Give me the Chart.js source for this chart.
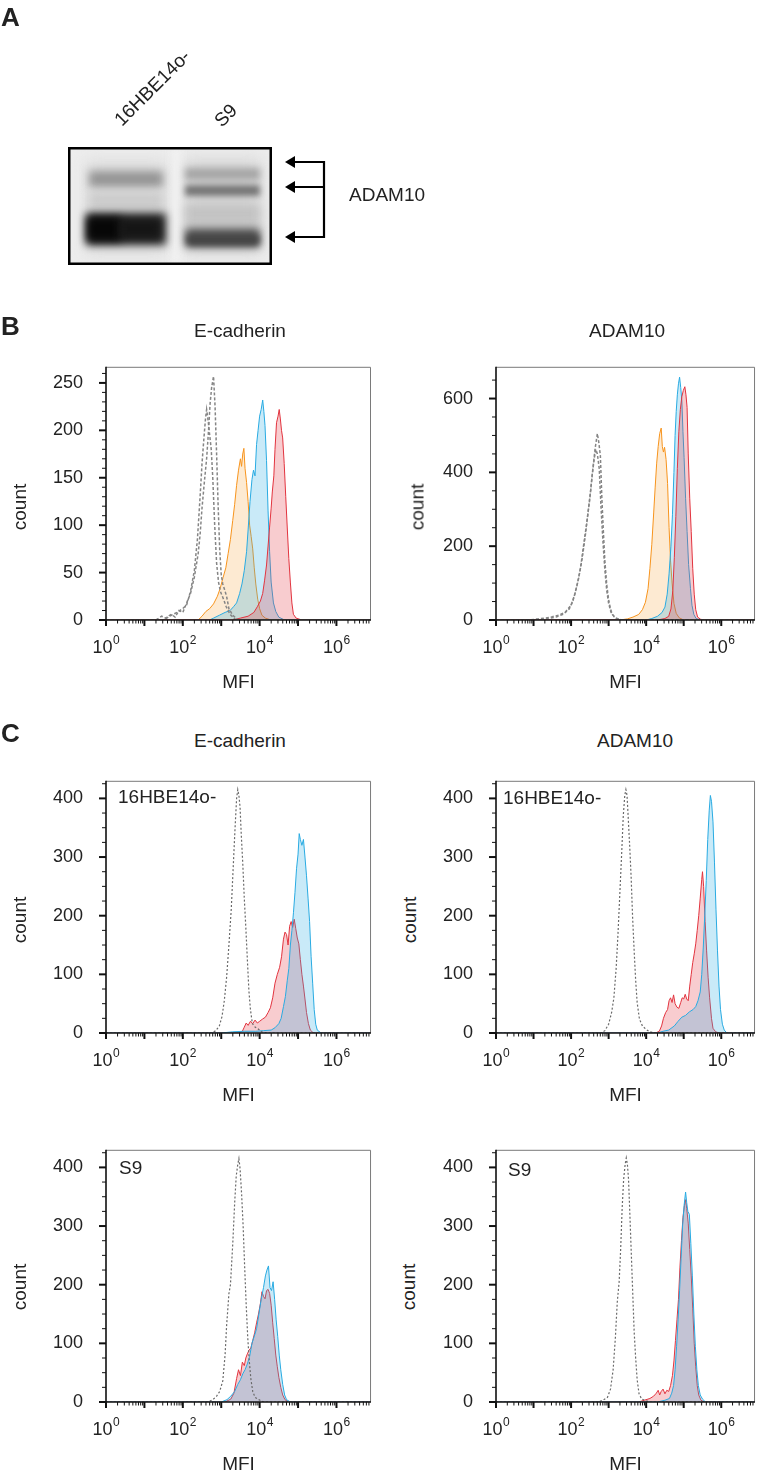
<!DOCTYPE html>
<html>
<head>
<meta charset="utf-8">
<script src="https://cdn.jsdelivr.net/npm/chart.js@4.4.1/dist/chart.umd.min.js"></script>
<style>
html, body { margin: 0; padding: 0; background: #fff; }
body { width: 764px; height: 1477px; position: relative; overflow: hidden;
       font-family: "Liberation Sans", Arial, Helvetica, sans-serif; color: #222; }
canvas { position: absolute; }
.t { position: absolute; line-height: 1; white-space: nowrap; font-size: 19px; }
.c { transform: translate(-50%, -50%); }
.v { transform: translate(-50%, -50%) rotate(-90deg); }
.r { transform-origin: 0 100%; transform: rotate(-45deg); }
.p { font-weight: bold; font-size: 26px; }
</style>
</head>
<body>
<canvas id="blot" width="400" height="280" style="left:0;top:0"></canvas>

<div class="t p" style="left:1px;top:4px">A</div>
<div class="t r" style="left:124px;top:110px">16HBE14o-</div>
<div class="t r" style="left:224px;top:111px">S9</div>
<div class="t" style="left:349px;top:185px">ADAM10</div>

<div class="t p" style="left:1px;top:313px">B</div>
<div class="t c" style="left:240px;top:330px">E-cadherin</div>
<div class="t c" style="left:627px;top:330px">ADAM10</div>
<div class="t v" style="left:19px;top:507px">count</div>
<div class="t v" style="left:417px;top:507px">count</div>

<div class="t p" style="left:1px;top:720px">C</div>
<div class="t c" style="left:240px;top:740px">E-cadherin</div>
<div class="t c" style="left:635px;top:740px">ADAM10</div>
<div class="t v" style="left:19px;top:920px">count</div>
<div class="t v" style="left:409px;top:920px">count</div>
<div class="t v" style="left:19px;top:1287px">count</div>
<div class="t v" style="left:408px;top:1287px">count</div>

<script>
// ---- axes ----
const X_MAX = Math.pow(10, 6.9);
const xLabelValues = [1, 100, 10000, 1000000];
const xLabelBase = '10';
const xLabelExps = ['0', '2', '4', '6'];

// ---- data: [log10(MFI), count] ----
// B, E-cadherin
const bEcadGrayA = [[0,0],[1.3,0],[1.45,4],[1.55,2],[1.7,6],[1.8,3],[1.9,10],[2.0,8],[2.1,18],[2.2,28],[2.3,45],[2.4,70],[2.45,90],[2.5,118],[2.56,145],[2.62,170],[2.67,200],[2.71,228],[2.75,245],[2.8,257],[2.84,225],[2.88,175],[2.92,120],[2.96,75],[3.0,48],[3.04,38],[3.08,33],[3.14,25],[3.2,12],[3.3,5],[3.45,0],[6.9,0]];
const bEcadGrayB = [[0,0],[1.5,0],[1.7,5],[1.85,8],[2.0,12],[2.1,16],[2.2,30],[2.3,52],[2.38,85],[2.45,130],[2.5,165],[2.55,192],[2.59,212],[2.62,222],[2.66,210],[2.7,195],[2.74,180],[2.78,150],[2.83,100],[2.88,60],[2.93,40],[2.98,30],[3.06,22],[3.13,14],[3.23,6],[3.38,0],[6.9,0]];
const bEcadOrange = [[0,0],[2.4,0],[2.5,4],[2.6,9],[2.7,12],[2.8,17],[2.9,25],[2.97,33],[3.05,45],[3.12,55],[3.18,70],[3.24,85],[3.3,105],[3.35,122],[3.4,142],[3.45,158],[3.5,170],[3.53,162],[3.56,175],[3.59,181],[3.62,160],[3.66,145],[3.7,125],[3.74,100],[3.78,88],[3.82,75],[3.86,55],[3.9,38],[3.95,22],[4.0,12],[4.06,5],[4.15,2],[4.3,0],[6.9,0]];
const bEcadBlue = [[0,0],[2.7,0],[2.8,2],[2.95,5],[3.1,8],[3.23,10],[3.32,14],[3.4,18],[3.48,28],[3.54,38],[3.6,52],[3.66,72],[3.7,95],[3.75,125],[3.8,148],[3.84,158],[3.88,152],[3.92,185],[3.96,200],[4.0,215],[4.04,222],[4.08,232],[4.11,220],[4.14,205],[4.18,168],[4.22,115],[4.26,72],[4.3,40],[4.36,18],[4.42,9],[4.5,3],[4.65,0],[6.9,0]];
const bEcadRed = [[0,0],[3.3,0],[3.5,2],[3.7,4],[3.85,8],[3.94,14],[4.02,20],[4.08,28],[4.13,42],[4.18,58],[4.22,78],[4.26,98],[4.3,118],[4.33,135],[4.37,152],[4.4,180],[4.44,208],[4.48,215],[4.51,222],[4.54,212],[4.57,200],[4.6,192],[4.64,165],[4.68,130],[4.72,97],[4.76,65],[4.8,40],[4.84,18],[4.88,6],[4.95,2],[5.1,0],[6.9,0]];

// B, ADAM10
const bAdamGrayA = [[0,0],[0.9,0],[1.1,3],[1.3,5],[1.5,9],[1.7,14],[1.85,22],[2.0,40],[2.1,70],[2.2,112],[2.3,170],[2.38,230],[2.45,290],[2.52,350],[2.58,410],[2.64,465],[2.7,505],[2.74,480],[2.78,445],[2.82,330],[2.86,240],[2.9,160],[2.95,95],[3.0,55],[3.05,30],[3.1,15],[3.2,5],[3.35,0],[6.9,0]];
const bAdamGrayB = [[0,0],[1.2,0],[1.4,4],[1.6,8],[1.8,16],[1.95,30],[2.05,52],[2.15,90],[2.25,140],[2.33,200],[2.42,265],[2.5,330],[2.56,390],[2.62,440],[2.66,462],[2.7,450],[2.75,410],[2.8,300],[2.85,210],[2.9,135],[2.95,80],[3.0,45],[3.06,22],[3.15,8],[3.3,0],[6.9,0]];
const bAdamOrange = [[0,0],[3.3,0],[3.5,3],[3.65,8],[3.8,15],[3.9,28],[3.98,48],[4.05,85],[4.1,140],[4.15,205],[4.2,290],[4.24,360],[4.28,425],[4.32,470],[4.36,505],[4.4,520],[4.43,470],[4.46,455],[4.49,468],[4.53,435],[4.57,370],[4.61,250],[4.65,160],[4.69,100],[4.74,45],[4.8,18],[4.88,6],[5.0,0],[6.9,0]];
const bAdamBlue = [[0,0],[4.0,0],[4.15,4],[4.3,10],[4.42,20],[4.5,35],[4.56,70],[4.61,125],[4.66,200],[4.7,285],[4.74,400],[4.77,500],[4.8,565],[4.83,610],[4.86,640],[4.89,658],[4.92,630],[4.95,595],[4.98,510],[5.01,440],[5.05,330],[5.09,240],[5.13,150],[5.18,85],[5.22,40],[5.27,15],[5.33,4],[5.45,0],[6.9,0]];
const bAdamRed = [[0,0],[4.3,0],[4.5,4],[4.6,10],[4.66,30],[4.71,80],[4.75,170],[4.79,280],[4.83,410],[4.87,510],[4.91,570],[4.95,605],[4.99,622],[5.03,632],[5.06,610],[5.09,576],[5.12,450],[5.16,330],[5.2,240],[5.24,140],[5.28,70],[5.32,28],[5.37,8],[5.45,2],[5.55,0],[6.9,0]];

// C, E-cadherin, 16HBE14o-
const cHbeEcadGray = [[0,0],[2.75,0],[2.86,4],[2.95,12],[3.02,28],[3.08,55],[3.14,95],[3.2,150],[3.26,210],[3.31,280],[3.36,350],[3.4,400],[3.43,415],[3.46,405],[3.49,385],[3.52,340],[3.56,290],[3.6,230],[3.64,180],[3.68,125],[3.72,72],[3.76,40],[3.81,16],[3.88,10],[3.94,8],[4.05,2],[4.2,0],[6.9,0]];
const cHbeEcadBlue = [[0,0],[3.0,0],[3.3,2],[3.6,3],[3.9,3],[4.1,4],[4.3,5],[4.4,9],[4.5,16],[4.56,25],[4.62,45],[4.67,62],[4.72,90],[4.76,110],[4.8,150],[4.84,175],[4.88,205],[4.92,240],[4.96,280],[5.0,305],[5.03,340],[5.06,330],[5.1,320],[5.14,330],[5.18,300],[5.22,268],[5.26,230],[5.3,190],[5.34,130],[5.38,85],[5.42,40],[5.46,15],[5.5,5],[5.6,0],[6.9,0]];
const cHbeEcadRed = [[0,0],[3.45,0],[3.55,3],[3.6,10],[3.65,17],[3.7,13],[3.76,20],[3.82,16],[3.88,22],[3.94,17],[4.0,20],[4.08,24],[4.15,27],[4.22,35],[4.28,43],[4.34,60],[4.4,85],[4.46,100],[4.52,112],[4.57,130],[4.62,160],[4.66,172],[4.7,168],[4.74,150],[4.78,182],[4.82,190],[4.86,180],[4.9,194],[4.94,178],[4.98,162],[5.02,152],[5.06,125],[5.1,100],[5.14,80],[5.18,58],[5.22,35],[5.27,16],[5.32,5],[5.4,0],[6.9,0]];

// C, ADAM10, 16HBE14o-
const cHbeAdamGray = [[0,0],[2.8,0],[2.9,4],[3.0,15],[3.08,35],[3.14,60],[3.2,110],[3.25,170],[3.3,240],[3.35,310],[3.39,370],[3.43,405],[3.46,415],[3.49,405],[3.52,370],[3.56,320],[3.6,265],[3.64,195],[3.68,140],[3.72,90],[3.76,52],[3.82,24],[3.9,12],[4.0,6],[4.1,2],[4.25,0],[6.9,0]];
const cHbeAdamBlue = [[0,0],[4.3,0],[4.45,3],[4.6,5],[4.75,12],[4.85,20],[4.95,27],[5.05,30],[5.15,36],[5.25,40],[5.32,45],[5.38,55],[5.44,70],[5.48,100],[5.52,145],[5.56,200],[5.6,260],[5.64,330],[5.68,380],[5.71,405],[5.74,395],[5.78,360],[5.82,290],[5.86,210],[5.9,140],[5.94,80],[5.98,40],[6.03,15],[6.08,5],[6.15,0],[6.9,0]];
const cHbeAdamRed = [[0,0],[4.25,0],[4.35,3],[4.41,12],[4.46,25],[4.52,35],[4.57,40],[4.61,55],[4.65,60],[4.69,52],[4.73,65],[4.77,50],[4.82,44],[4.87,42],[4.92,52],[4.96,60],[5.0,58],[5.04,66],[5.08,58],[5.12,55],[5.16,80],[5.2,100],[5.24,120],[5.28,135],[5.32,152],[5.36,175],[5.4,200],[5.44,230],[5.48,262],[5.5,275],[5.53,250],[5.57,190],[5.61,140],[5.65,95],[5.69,60],[5.74,25],[5.78,8],[5.85,2],[5.95,0],[6.9,0]];

// C, E-cadherin, S9
const cS9EcadGray = [[0,0],[2.65,0],[2.78,4],[2.88,10],[2.96,18],[3.04,36],[3.1,80],[3.14,130],[3.2,185],[3.24,200],[3.3,270],[3.35,340],[3.39,385],[3.43,405],[3.46,415],[3.49,398],[3.53,355],[3.57,300],[3.61,230],[3.65,165],[3.69,110],[3.73,70],[3.77,40],[3.82,18],[3.88,8],[3.98,4],[4.1,0],[6.9,0]];
const cS9EcadBlue = [[0,0],[3.0,0],[3.15,4],[3.25,10],[3.35,18],[3.43,30],[3.5,38],[3.56,48],[3.62,55],[3.68,65],[3.74,78],[3.8,100],[3.86,112],[3.92,125],[3.98,150],[4.04,175],[4.1,195],[4.15,215],[4.19,225],[4.23,232],[4.27,195],[4.31,190],[4.35,205],[4.39,175],[4.43,140],[4.47,112],[4.51,80],[4.55,55],[4.6,30],[4.65,12],[4.7,4],[4.8,0],[6.9,0]];
const cS9EcadRed = [[0,0],[3.1,0],[3.25,5],[3.33,15],[3.4,40],[3.45,55],[3.5,45],[3.55,68],[3.6,62],[3.64,75],[3.68,82],[3.72,88],[3.77,92],[3.82,105],[3.87,118],[3.92,135],[3.97,150],[4.02,168],[4.06,188],[4.1,180],[4.14,176],[4.18,190],[4.22,192],[4.26,185],[4.3,165],[4.34,135],[4.38,108],[4.42,80],[4.46,60],[4.5,42],[4.55,25],[4.6,12],[4.66,4],[4.75,0],[6.9,0]];

// C, ADAM10, S9
const cS9AdamGray = [[0,0],[2.7,0],[2.85,3],[2.97,8],[3.05,22],[3.12,55],[3.18,110],[3.23,170],[3.28,205],[3.32,260],[3.36,330],[3.4,380],[3.44,405],[3.47,416],[3.5,405],[3.53,380],[3.56,330],[3.6,260],[3.64,190],[3.68,120],[3.72,75],[3.76,38],[3.81,14],[3.88,5],[4.0,2],[4.1,0],[6.9,0]];
const cS9AdamBlue = [[0,0],[4.3,0],[4.5,3],[4.62,6],[4.68,15],[4.73,28],[4.77,55],[4.81,95],[4.85,140],[4.89,190],[4.93,245],[4.97,300],[5.01,335],[5.05,358],[5.08,340],[5.11,325],[5.15,320],[5.19,270],[5.23,215],[5.27,150],[5.31,95],[5.35,55],[5.39,28],[5.44,12],[5.5,5],[5.58,0],[6.9,0]];
const cS9AdamRed = [[0,0],[3.8,0],[3.95,3],[4.1,6],[4.2,10],[4.27,15],[4.32,20],[4.36,12],[4.4,18],[4.45,22],[4.5,14],[4.55,20],[4.6,18],[4.65,28],[4.7,45],[4.74,70],[4.78,105],[4.82,140],[4.86,175],[4.9,230],[4.94,275],[4.98,315],[5.02,335],[5.05,345],[5.08,330],[5.12,305],[5.16,260],[5.2,215],[5.24,160],[5.28,100],[5.32,60],[5.36,28],[5.4,12],[5.46,3],[5.55,0],[6.9,0]];

// ---- styles ----
const styles = {
    grayB:  { borderColor: '#858585', borderWidth: 1.5, borderDash: [3, 2], fill: false },
    grayC:  { borderColor: '#6a6a6a', borderWidth: 1.2, borderDash: [2, 2], fill: false },
    red:    { borderColor: '#e2343f', borderWidth: 1, fill: 'origin', backgroundColor: 'rgba(226,52,64,0.25)' },
    blue:   { borderColor: '#29abe2', borderWidth: 1, fill: 'origin', backgroundColor: 'rgba(41,171,226,0.25)' },
    orange: { borderColor: '#f7941d', borderWidth: 1, fill: 'origin', backgroundColor: 'rgba(247,148,29,0.2)' }
};

// ---- panel layout (first series is drawn on top) ----
const PAD_TOP = 14, X_AXIS_H = 74;
const TICK_FONT = 18;
const panels = [
    { left: 30,  width: 350, top: 354,  bottom: 620,  plotLeft: 106, plotRight: 371, yMax: 267, yMajor: 50,  yMinor: 10,
      series: [[bEcadGrayA, 'grayB'], [bEcadGrayB, 'grayB'], [bEcadRed, 'red'], [bEcadBlue, 'blue'], [bEcadOrange, 'orange']] },
    { left: 420, width: 344, top: 354,  bottom: 620,  plotLeft: 496, plotRight: 762, yMax: 686, yMajor: 200, yMinor: 50,
      series: [[bAdamGrayA, 'grayB'], [bAdamGrayB, 'grayB'], [bAdamRed, 'red'], [bAdamBlue, 'blue'], [bAdamOrange, 'orange']] },
    { left: 30,  width: 350, top: 768,  bottom: 1033, plotLeft: 106, plotRight: 372, yMax: 430, yMajor: 100, yMinor: 25,
      series: [[cHbeEcadGray, 'grayC'], [cHbeEcadBlue, 'blue'], [cHbeEcadRed, 'red']] },
    { left: 420, width: 344, top: 768,  bottom: 1033, plotLeft: 496, plotRight: 762, yMax: 430, yMajor: 100, yMinor: 25,
      series: [[cHbeAdamGray, 'grayC'], [cHbeAdamBlue, 'blue'], [cHbeAdamRed, 'red']] },
    { left: 30,  width: 350, top: 1137, bottom: 1402, plotLeft: 106, plotRight: 372, yMax: 430, yMajor: 100, yMinor: 25,
      series: [[cS9EcadGray, 'grayC'], [cS9EcadBlue, 'blue'], [cS9EcadRed, 'red']] },
    { left: 420, width: 344, top: 1137, bottom: 1402, plotLeft: 496, plotRight: 762, yMax: 430, yMajor: 100, yMinor: 25,
      series: [[cS9AdamGray, 'grayC'], [cS9AdamBlue, 'blue'], [cS9AdamRed, 'red']] }
];
const innerLabels = [
    { text: '16HBE14o-', x: 118, y: 796 }, { text: '16HBE14o-', x: 503, y: 797 },
    { text: 'S9', x: 119, y: 1167 }, { text: 'S9', x: 508, y: 1169 }
];

// log tick marks: 1..9 of each decade
const xTickValues = [];
for (let e = 0; e <= 6; e++) {
    for (let m = 1; m <= 9; m++) {
        const v = m * Math.pow(10, e);
        if (v <= X_MAX) xTickValues.push(v);
    }
}
function isDecade(v) {
    const l = Math.log10(v);
    return Math.abs(l - Math.round(l)) < 1e-9;
}
function toPoints(pairs) {
    return pairs.map(p => ({ x: Math.pow(10, p[0]), y: p[1] }));
}

const FONT = '"Liberation Sans", Arial, Helvetica, sans-serif';
const EXP_SHIFT = -3.5;

// frame, axis lines, tick marks and the exponents of the x labels
const axisFrame = {
    id: 'axisFrame',
    afterDraw(chart, args, opts) {
        const { ctx, chartArea: a, scales: { x, y } } = chart;
        ctx.save();
        ctx.strokeStyle = '#7a7a7a';
        ctx.lineWidth = 1;
        ctx.beginPath();
        ctx.moveTo(a.left, a.top + 0.5);
        ctx.lineTo(a.right - 0.5, a.top + 0.5);
        ctx.lineTo(a.right - 0.5, a.bottom);
        ctx.stroke();

        ctx.strokeStyle = '#111';
        ctx.lineWidth = 1.6;
        ctx.beginPath();
        ctx.moveTo(a.left, a.top);
        ctx.lineTo(a.left, a.bottom + 1);
        ctx.moveTo(a.left, a.bottom);
        ctx.lineTo(a.right, a.bottom);
        ctx.stroke();

        x.ticks.forEach(t => {
            const px = x.getPixelForValue(t.value);
            const major = isDecade(t.value);
            ctx.lineWidth = major ? 2 : 1;
            ctx.beginPath();
            ctx.moveTo(px, a.bottom);
            ctx.lineTo(px, a.bottom + (major ? 6 : 3.5));
            ctx.stroke();
        });
        y.ticks.forEach(t => {
            const py = y.getPixelForValue(t.value);
            const major = t.value % opts.yMajor === 0;
            ctx.lineWidth = major ? 2 : 1;
            ctx.beginPath();
            ctx.moveTo(a.left, py);
            ctx.lineTo(a.left - (major ? 7 : 4), py);
            ctx.stroke();
        });

        // superscripts next to the "10" labels
        ctx.font = TICK_FONT + 'px ' + FONT;
        const baseW = ctx.measureText(xLabelBase).width;
        ctx.font = '12px ' + FONT;
        ctx.fillStyle = '#222';
        ctx.textAlign = 'left';
        ctx.textBaseline = 'alphabetic';
        xLabelValues.forEach((v, i) => {
            const px = x.getPixelForValue(v) + EXP_SHIFT;
            ctx.fillText(xLabelExps[i], px + baseW / 2 + 0.5, a.bottom + 24);
        });
        ctx.restore();
    }
};

Chart.defaults.font.family = FONT;
Chart.defaults.color = '#222';

panels.forEach(p => {
    const cv = document.createElement('canvas');
    cv.width = p.width;
    cv.height = p.bottom - p.top + PAD_TOP + X_AXIS_H;
    cv.style.left = p.left + 'px';
    cv.style.top = (p.top - PAD_TOP) + 'px';
    document.body.insertBefore(cv, document.body.firstChild);

    const yTicks = [];
    for (let v = 0; v <= p.yMax; v += p.yMinor) yTicks.push(v);

    new Chart(cv, {
        type: 'line',
        data: {
            datasets: p.series.map(s => Object.assign({
                data: toPoints(s[0]), pointRadius: 0, tension: 0
            }, styles[s[1]]))
        },
        options: {
            responsive: false,
            animation: false,
            events: [],
            layout: { padding: { top: PAD_TOP, right: p.left + p.width - p.plotRight, left: 0, bottom: 0 } },
            plugins: { legend: { display: false }, tooltip: { enabled: false }, axisFrame: { yMajor: p.yMajor } },
            scales: {
                x: {
                    type: 'logarithmic', min: 1, max: X_MAX,
                    afterBuildTicks: s => { s.ticks = xTickValues.map(v => ({ value: v })); },
                    afterFit: s => { s.height = X_AXIS_H; },
                    grid: { display: false, drawTicks: true, tickLength: 6 },
                    border: { display: false },
                    ticks: {
                        autoSkip: false, maxRotation: 0, minRotation: 0, padding: 11,
                        labelOffset: EXP_SHIFT,
                        font: { size: TICK_FONT },
                        callback: v => (xLabelValues.indexOf(v) < 0 ? '' : xLabelBase)
                    },
                    title: { display: true, text: 'MFI', font: { size: 19 }, padding: 0 }
                },
                y: {
                    type: 'linear', min: 0, max: p.yMax,
                    afterBuildTicks: s => { s.ticks = yTicks.map(v => ({ value: v })); },
                    afterFit: s => { s.width = p.plotLeft - p.left; },
                    grid: { display: false, drawTicks: true, tickLength: 7 },
                    border: { display: false },
                    ticks: {
                        autoSkip: false, padding: 16, font: { size: TICK_FONT },
                        callback: v => (v % p.yMajor === 0 ? String(v) : '')
                    }
                }
            }
        },
        plugins: [axisFrame]
    });
});

innerLabels.forEach(l => {
    const d = document.createElement('div');
    d.className = 't';
    d.textContent = l.text;
    d.style.left = l.x + 'px';
    d.style.top = (l.y - 9.5) + 'px';
    document.body.appendChild(d);
});

// ---- western blot (panel A) ----
const bctx = document.getElementById('blot').getContext('2d');
bctx.fillStyle = '#ededed';
bctx.fillRect(68, 147, 204, 118);
bctx.save();
bctx.beginPath();
bctx.rect(68, 147, 204, 118);
bctx.clip();
function band(x, y, w, h, color, blur) {
    bctx.filter = 'blur(' + blur + 'px)';
    bctx.fillStyle = color;
    bctx.fillRect(x, y, w, h);
}
band(86, 160, 80, 95, '#dcdcdc', 8);
band(183, 158, 78, 97, '#d8d8d8', 8);
band(172, 147, 8, 118, '#f3f3f3', 4);
// lane 1
band(89, 171, 74, 16, '#959595', 4);
band(89, 193, 74, 16, '#cbcbcb', 5);
band(86, 213, 80, 32, '#262626', 4);
band(87, 217, 34, 24, '#070707', 4);
band(120, 220, 40, 18, '#151515', 4);
// lane 2
band(185, 168, 75, 12, '#a5a5a5', 3.5);
band(185, 185, 75, 11, '#747474', 3);
band(185, 204, 75, 20, '#c3c3c3', 5);
band(185, 228, 75, 19, '#555555', 4);
band(187, 235, 72, 10, '#444444', 3);
bctx.restore();
bctx.filter = 'none';
bctx.lineWidth = 2.5;
bctx.strokeStyle = '#000';
bctx.strokeRect(69.25, 148.25, 201.5, 115.5);

// arrows
bctx.lineWidth = 2.2;
bctx.beginPath();
[162, 187, 237].forEach(yy => { bctx.moveTo(293, yy); bctx.lineTo(325, yy); });
bctx.moveTo(324, 161);
bctx.lineTo(324, 238);
bctx.stroke();
bctx.fillStyle = '#000';
[162, 187, 237].forEach(yy => {
    bctx.beginPath();
    bctx.moveTo(285, yy);
    bctx.lineTo(295, yy - 6);
    bctx.lineTo(295, yy + 6);
    bctx.closePath();
    bctx.fill();
});
</script>
</body>
</html>
